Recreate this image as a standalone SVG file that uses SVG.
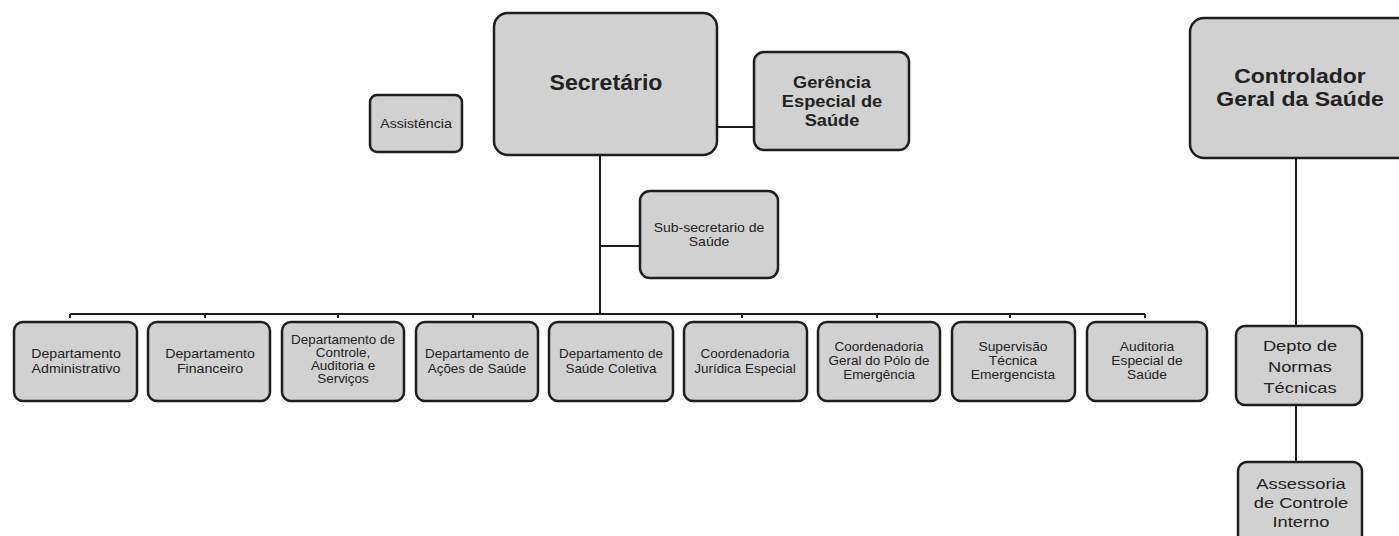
<svg xmlns="http://www.w3.org/2000/svg" width="1399" height="536" viewBox="0 0 1399 536">
<style>
.box{fill:#d1d1d1;stroke:#1e1e1e;stroke-width:2.5}
.ln{stroke:#1e1e1e;stroke-width:2;fill:none}
text{font-family:"Liberation Sans",Arial,sans-serif;fill:#222;text-anchor:middle}
.big{font-size:22px;font-weight:bold}
.ctl{font-size:20px;font-weight:bold}
.mid{font-size:16px;font-weight:bold}
.sm{font-size:12px}
.nt{font-size:15px}
</style>
<rect width="1399" height="536" fill="#fff"/>
<g id="connectors">
<path class="ln" d="M600 155V314M717 127H754M600 246H640M70 314H1145"/>
<path class="ln" d="M70 314v4M205 314v4M338 314v4M473 314v4M742 314v4M877 314v4M1010 314v4M1145 314v4"/>
<path class="ln" d="M1296 158V326M1296 405V462"/>
</g>
<g id="secretario"><rect class="box" x="494" y="13" width="223" height="142" rx="14"/><g transform="translate(606 0) scale(1.05 1)"><text class="big" x="0" y="90">Secretário</text></g></g>
<g id="assistencia"><rect class="box" x="370" y="95" width="92" height="57" rx="7"/><g transform="translate(416 0) scale(1.18 1)"><text class="sm" x="0" y="128">Assistência</text></g></g>
<g id="gerencia"><rect class="box" x="754" y="52" width="155" height="98" rx="10"/><g transform="translate(832 0) scale(1.14 1)"><text class="mid" x="0" y="88">Gerência</text><text class="mid" x="0" y="107">Especial de</text><text class="mid" x="0" y="126">Saúde</text></g></g>
<g id="subsecretario"><rect class="box" x="640" y="191" width="138" height="87" rx="10"/><g transform="translate(709 0) scale(1.17 1)"><text class="sm" x="0" y="232">Sub-secretario de</text><text class="sm" x="0" y="246">Saúde</text></g></g>
<g id="d1"><rect class="box" x="14" y="322" width="123" height="79" rx="9"/><g transform="translate(76 0) scale(1.18 1)"><text class="sm" x="0" y="358">Departamento</text><text class="sm" x="0" y="373">Administrativo</text></g></g>
<g id="d2"><rect class="box" x="148" y="322" width="122" height="79" rx="9"/><g transform="translate(210 0) scale(1.18 1)"><text class="sm" x="0" y="358">Departamento</text><text class="sm" x="0" y="373">Financeiro</text></g></g>
<g id="d3"><rect class="box" x="282" y="322" width="122" height="79" rx="9"/><g transform="translate(343 0) scale(1.12 1)"><text class="sm" x="0" y="344">Departamento de</text><text class="sm" x="0" y="357">Controle,</text><text class="sm" x="0" y="370">Auditoria e</text><text class="sm" x="0" y="383">Serviços</text></g></g>
<g id="d4"><rect class="box" x="416" y="322" width="122" height="79" rx="9"/><g transform="translate(477 0) scale(1.12 1)"><text class="sm" x="0" y="358">Departamento de</text><text class="sm" x="0" y="373">Ações de Saúde</text></g></g>
<g id="d5"><rect class="box" x="549" y="322" width="124" height="79" rx="9"/><g transform="translate(611 0) scale(1.12 1)"><text class="sm" x="0" y="358">Departamento de</text><text class="sm" x="0" y="373">Saúde Coletiva</text></g></g>
<g id="d6"><rect class="box" x="684" y="322" width="123" height="79" rx="9"/><g transform="translate(745 0) scale(1.12 1)"><text class="sm" x="0" y="358">Coordenadoria</text><text class="sm" x="0" y="373">Jurídica Especial</text></g></g>
<g id="d7"><rect class="box" x="818" y="322" width="122" height="79" rx="9"/><g transform="translate(879 0) scale(1.12 1)"><text class="sm" x="0" y="351">Coordenadoria</text><text class="sm" x="0" y="365">Geral do Pólo de</text><text class="sm" x="0" y="379">Emergência</text></g></g>
<g id="d8"><rect class="box" x="952" y="322" width="123" height="79" rx="9"/><g transform="translate(1013 0) scale(1.15 1)"><text class="sm" x="0" y="351">Supervisão</text><text class="sm" x="0" y="365">Técnica</text><text class="sm" x="0" y="379">Emergencista</text></g></g>
<g id="d9"><rect class="box" x="1087" y="322" width="120" height="79" rx="9"/><g transform="translate(1147 0) scale(1.15 1)"><text class="sm" x="0" y="351">Auditoria</text><text class="sm" x="0" y="365">Especial de</text><text class="sm" x="0" y="379">Saúde</text></g></g>
<g id="controlador"><rect class="box" x="1190" y="18" width="230" height="140" rx="14"/><g transform="translate(1300 0) scale(1.15 1)"><text class="ctl" x="0" y="83">Controlador</text><text class="ctl" x="0" y="106">Geral da Saúde</text></g></g>
<g id="normas"><rect class="box" x="1236" y="326" width="126" height="79" rx="9"/><g transform="translate(1300 0) scale(1.22 1)"><text class="nt" x="0" y="351">Depto de</text><text class="nt" x="0" y="372">Normas</text><text class="nt" x="0" y="393">Técnicas</text></g></g>
<g id="assessoria"><rect class="box" x="1238" y="462" width="124" height="90" rx="9"/><g transform="translate(1301 0) scale(1.22 1)"><text class="nt" x="0" y="489">Assessoria</text><text class="nt" x="0" y="508">de Controle</text><text class="nt" x="0" y="527">Interno</text></g></g>
</svg>
